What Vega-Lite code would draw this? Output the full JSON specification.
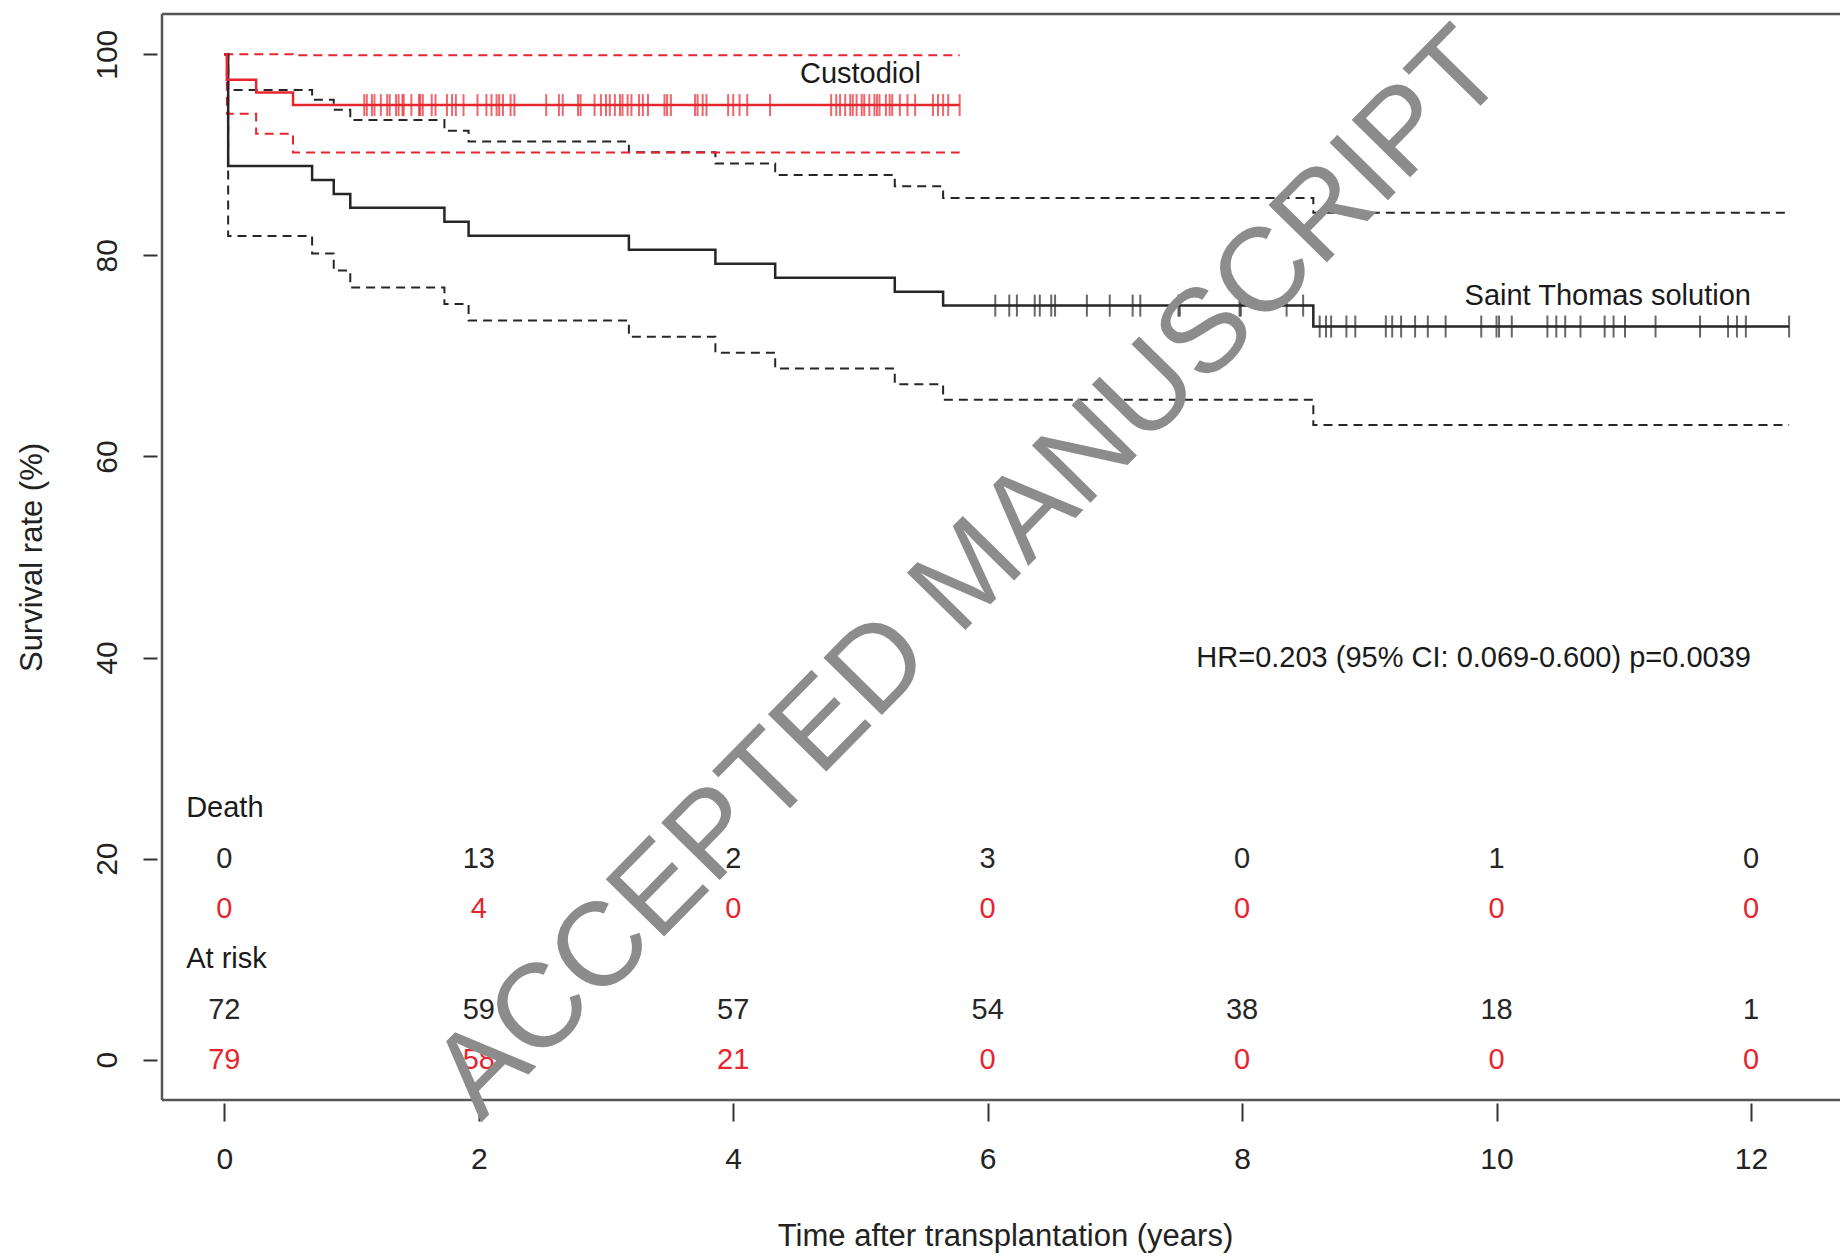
{
  "$schema": "https://vega.github.io/schema/vega-lite/v6.json",
  "width": 1678,
  "height": 1086,
  "autosize": {"type": "none"},
  "padding": {"left": 162, "top": 14, "right": 0, "bottom": 156},
  "background": "white",
  "config": {"view": {"stroke": null}, "font": "Liberation Sans"},
  "datasets": {
    "curves": [
      {"group": "Saint Thomas", "band": "est", "t": 0, "s": 100},
      {"group": "Saint Thomas", "band": "est", "t": 0.03, "s": 88.89},
      {"group": "Saint Thomas", "band": "est", "t": 0.69, "s": 87.5},
      {"group": "Saint Thomas", "band": "est", "t": 0.86, "s": 86.11},
      {"group": "Saint Thomas", "band": "est", "t": 0.99, "s": 84.72},
      {"group": "Saint Thomas", "band": "est", "t": 1.73, "s": 83.33},
      {"group": "Saint Thomas", "band": "est", "t": 1.92, "s": 81.94},
      {"group": "Saint Thomas", "band": "est", "t": 3.18, "s": 80.56},
      {"group": "Saint Thomas", "band": "est", "t": 3.86, "s": 79.17},
      {"group": "Saint Thomas", "band": "est", "t": 4.33, "s": 77.78},
      {"group": "Saint Thomas", "band": "est", "t": 5.27, "s": 76.39},
      {"group": "Saint Thomas", "band": "est", "t": 5.65, "s": 75.0},
      {"group": "Saint Thomas", "band": "est", "t": 8.56, "s": 72.92},
      {"group": "Saint Thomas", "band": "est", "t": 12.3, "s": 72.92},
      {"group": "Saint Thomas", "band": "hi", "t": 0, "s": 100},
      {"group": "Saint Thomas", "band": "hi", "t": 0.03, "s": 96.45},
      {"group": "Saint Thomas", "band": "hi", "t": 0.69, "s": 95.48},
      {"group": "Saint Thomas", "band": "hi", "t": 0.86, "s": 94.48},
      {"group": "Saint Thomas", "band": "hi", "t": 0.99, "s": 93.45},
      {"group": "Saint Thomas", "band": "hi", "t": 1.73, "s": 92.4},
      {"group": "Saint Thomas", "band": "hi", "t": 1.92, "s": 91.33},
      {"group": "Saint Thomas", "band": "hi", "t": 3.18, "s": 90.24},
      {"group": "Saint Thomas", "band": "hi", "t": 3.86, "s": 89.13},
      {"group": "Saint Thomas", "band": "hi", "t": 4.33, "s": 88.0},
      {"group": "Saint Thomas", "band": "hi", "t": 5.27, "s": 86.86},
      {"group": "Saint Thomas", "band": "hi", "t": 5.65, "s": 85.7},
      {"group": "Saint Thomas", "band": "hi", "t": 8.56, "s": 84.24},
      {"group": "Saint Thomas", "band": "hi", "t": 12.3, "s": 84.24},
      {"group": "Saint Thomas", "band": "lo", "t": 0, "s": 100},
      {"group": "Saint Thomas", "band": "lo", "t": 0.03, "s": 81.92},
      {"group": "Saint Thomas", "band": "lo", "t": 0.69, "s": 80.19},
      {"group": "Saint Thomas", "band": "lo", "t": 0.86, "s": 78.48},
      {"group": "Saint Thomas", "band": "lo", "t": 0.99, "s": 76.81},
      {"group": "Saint Thomas", "band": "lo", "t": 1.73, "s": 75.16},
      {"group": "Saint Thomas", "band": "lo", "t": 1.92, "s": 73.52},
      {"group": "Saint Thomas", "band": "lo", "t": 3.18, "s": 71.91},
      {"group": "Saint Thomas", "band": "lo", "t": 3.86, "s": 70.32},
      {"group": "Saint Thomas", "band": "lo", "t": 4.33, "s": 68.74},
      {"group": "Saint Thomas", "band": "lo", "t": 5.27, "s": 67.18},
      {"group": "Saint Thomas", "band": "lo", "t": 5.65, "s": 65.64},
      {"group": "Saint Thomas", "band": "lo", "t": 8.56, "s": 63.12},
      {"group": "Saint Thomas", "band": "lo", "t": 12.3, "s": 63.12},
      {"group": "Custodiol", "band": "est", "t": 0, "s": 100},
      {"group": "Custodiol", "band": "est", "t": 0.02, "s": 97.47},
      {"group": "Custodiol", "band": "est", "t": 0.25, "s": 96.2},
      {"group": "Custodiol", "band": "est", "t": 0.54, "s": 94.94},
      {"group": "Custodiol", "band": "est", "t": 5.78, "s": 94.94},
      {"group": "Custodiol", "band": "hi", "t": 0, "s": 100},
      {"group": "Custodiol", "band": "hi", "t": 0.54, "s": 99.9},
      {"group": "Custodiol", "band": "hi", "t": 5.78, "s": 99.9},
      {"group": "Custodiol", "band": "lo", "t": 0, "s": 100},
      {"group": "Custodiol", "band": "lo", "t": 0.02, "s": 94.07},
      {"group": "Custodiol", "band": "lo", "t": 0.25, "s": 92.08},
      {"group": "Custodiol", "band": "lo", "t": 0.54, "s": 90.22},
      {"group": "Custodiol", "band": "lo", "t": 5.78, "s": 90.22}
    ],
    "censored": [
      {"group": "Custodiol", "t": 1.10, "s": 94.94}, {"group": "Custodiol", "t": 1.12, "s": 94.94},
      {"group": "Custodiol", "t": 1.16, "s": 94.94}, {"group": "Custodiol", "t": 1.18, "s": 94.94},
      {"group": "Custodiol", "t": 1.23, "s": 94.94}, {"group": "Custodiol", "t": 1.28, "s": 94.94},
      {"group": "Custodiol", "t": 1.30, "s": 94.94}, {"group": "Custodiol", "t": 1.35, "s": 94.94},
      {"group": "Custodiol", "t": 1.37, "s": 94.94}, {"group": "Custodiol", "t": 1.40, "s": 94.94},
      {"group": "Custodiol", "t": 1.41, "s": 94.94}, {"group": "Custodiol", "t": 1.47, "s": 94.94},
      {"group": "Custodiol", "t": 1.53, "s": 94.94}, {"group": "Custodiol", "t": 1.54, "s": 94.94},
      {"group": "Custodiol", "t": 1.56, "s": 94.94}, {"group": "Custodiol", "t": 1.63, "s": 94.94},
      {"group": "Custodiol", "t": 1.66, "s": 94.94}, {"group": "Custodiol", "t": 1.75, "s": 94.94},
      {"group": "Custodiol", "t": 1.79, "s": 94.94}, {"group": "Custodiol", "t": 1.82, "s": 94.94},
      {"group": "Custodiol", "t": 1.88, "s": 94.94}, {"group": "Custodiol", "t": 1.99, "s": 94.94},
      {"group": "Custodiol", "t": 2.06, "s": 94.94}, {"group": "Custodiol", "t": 2.10, "s": 94.94},
      {"group": "Custodiol", "t": 2.14, "s": 94.94}, {"group": "Custodiol", "t": 2.16, "s": 94.94},
      {"group": "Custodiol", "t": 2.19, "s": 94.94}, {"group": "Custodiol", "t": 2.25, "s": 94.94},
      {"group": "Custodiol", "t": 2.28, "s": 94.94}, {"group": "Custodiol", "t": 2.53, "s": 94.94},
      {"group": "Custodiol", "t": 2.63, "s": 94.94}, {"group": "Custodiol", "t": 2.66, "s": 94.94},
      {"group": "Custodiol", "t": 2.78, "s": 94.94}, {"group": "Custodiol", "t": 2.80, "s": 94.94},
      {"group": "Custodiol", "t": 2.91, "s": 94.94}, {"group": "Custodiol", "t": 2.96, "s": 94.94},
      {"group": "Custodiol", "t": 3.00, "s": 94.94}, {"group": "Custodiol", "t": 3.03, "s": 94.94},
      {"group": "Custodiol", "t": 3.07, "s": 94.94}, {"group": "Custodiol", "t": 3.11, "s": 94.94},
      {"group": "Custodiol", "t": 3.13, "s": 94.94}, {"group": "Custodiol", "t": 3.17, "s": 94.94},
      {"group": "Custodiol", "t": 3.20, "s": 94.94}, {"group": "Custodiol", "t": 3.26, "s": 94.94},
      {"group": "Custodiol", "t": 3.29, "s": 94.94}, {"group": "Custodiol", "t": 3.33, "s": 94.94},
      {"group": "Custodiol", "t": 3.46, "s": 94.94}, {"group": "Custodiol", "t": 3.48, "s": 94.94},
      {"group": "Custodiol", "t": 3.51, "s": 94.94}, {"group": "Custodiol", "t": 3.70, "s": 94.94},
      {"group": "Custodiol", "t": 3.72, "s": 94.94}, {"group": "Custodiol", "t": 3.76, "s": 94.94},
      {"group": "Custodiol", "t": 3.79, "s": 94.94}, {"group": "Custodiol", "t": 3.96, "s": 94.94},
      {"group": "Custodiol", "t": 4.00, "s": 94.94}, {"group": "Custodiol", "t": 4.05, "s": 94.94},
      {"group": "Custodiol", "t": 4.11, "s": 94.94}, {"group": "Custodiol", "t": 4.29, "s": 94.94},
      {"group": "Custodiol", "t": 4.77, "s": 94.94}, {"group": "Custodiol", "t": 4.81, "s": 94.94},
      {"group": "Custodiol", "t": 4.84, "s": 94.94}, {"group": "Custodiol", "t": 4.88, "s": 94.94},
      {"group": "Custodiol", "t": 4.92, "s": 94.94}, {"group": "Custodiol", "t": 4.94, "s": 94.94},
      {"group": "Custodiol", "t": 4.97, "s": 94.94}, {"group": "Custodiol", "t": 5.01, "s": 94.94},
      {"group": "Custodiol", "t": 5.03, "s": 94.94}, {"group": "Custodiol", "t": 5.07, "s": 94.94},
      {"group": "Custodiol", "t": 5.11, "s": 94.94}, {"group": "Custodiol", "t": 5.13, "s": 94.94},
      {"group": "Custodiol", "t": 5.15, "s": 94.94}, {"group": "Custodiol", "t": 5.20, "s": 94.94},
      {"group": "Custodiol", "t": 5.23, "s": 94.94}, {"group": "Custodiol", "t": 5.25, "s": 94.94},
      {"group": "Custodiol", "t": 5.31, "s": 94.94}, {"group": "Custodiol", "t": 5.37, "s": 94.94},
      {"group": "Custodiol", "t": 5.43, "s": 94.94}, {"group": "Custodiol", "t": 5.57, "s": 94.94},
      {"group": "Custodiol", "t": 5.61, "s": 94.94}, {"group": "Custodiol", "t": 5.65, "s": 94.94},
      {"group": "Custodiol", "t": 5.69, "s": 94.94}, {"group": "Custodiol", "t": 5.78, "s": 94.94},
      {"group": "Saint Thomas", "t": 6.06, "s": 75.0}, {"group": "Saint Thomas", "t": 6.17, "s": 75.0},
      {"group": "Saint Thomas", "t": 6.23, "s": 75.0}, {"group": "Saint Thomas", "t": 6.37, "s": 75.0},
      {"group": "Saint Thomas", "t": 6.41, "s": 75.0}, {"group": "Saint Thomas", "t": 6.50, "s": 75.0},
      {"group": "Saint Thomas", "t": 6.53, "s": 75.0}, {"group": "Saint Thomas", "t": 6.78, "s": 75.0},
      {"group": "Saint Thomas", "t": 6.96, "s": 75.0}, {"group": "Saint Thomas", "t": 7.14, "s": 75.0},
      {"group": "Saint Thomas", "t": 7.20, "s": 75.0}, {"group": "Saint Thomas", "t": 7.50, "s": 75.0},
      {"group": "Saint Thomas", "t": 7.51, "s": 75.0}, {"group": "Saint Thomas", "t": 7.98, "s": 75.0},
      {"group": "Saint Thomas", "t": 7.99, "s": 75.0}, {"group": "Saint Thomas", "t": 8.35, "s": 75.0},
      {"group": "Saint Thomas", "t": 8.48, "s": 75.0},
      {"group": "Saint Thomas", "t": 8.61, "s": 72.92}, {"group": "Saint Thomas", "t": 8.66, "s": 72.92},
      {"group": "Saint Thomas", "t": 8.70, "s": 72.92}, {"group": "Saint Thomas", "t": 8.82, "s": 72.92},
      {"group": "Saint Thomas", "t": 8.89, "s": 72.92}, {"group": "Saint Thomas", "t": 9.13, "s": 72.92},
      {"group": "Saint Thomas", "t": 9.18, "s": 72.92}, {"group": "Saint Thomas", "t": 9.25, "s": 72.92},
      {"group": "Saint Thomas", "t": 9.36, "s": 72.92}, {"group": "Saint Thomas", "t": 9.46, "s": 72.92},
      {"group": "Saint Thomas", "t": 9.60, "s": 72.92}, {"group": "Saint Thomas", "t": 9.88, "s": 72.92},
      {"group": "Saint Thomas", "t": 10.00, "s": 72.92}, {"group": "Saint Thomas", "t": 10.02, "s": 72.92},
      {"group": "Saint Thomas", "t": 10.12, "s": 72.92}, {"group": "Saint Thomas", "t": 10.40, "s": 72.92},
      {"group": "Saint Thomas", "t": 10.47, "s": 72.92}, {"group": "Saint Thomas", "t": 10.54, "s": 72.92},
      {"group": "Saint Thomas", "t": 10.66, "s": 72.92}, {"group": "Saint Thomas", "t": 10.85, "s": 72.92},
      {"group": "Saint Thomas", "t": 10.92, "s": 72.92}, {"group": "Saint Thomas", "t": 11.01, "s": 72.92},
      {"group": "Saint Thomas", "t": 11.25, "s": 72.92}, {"group": "Saint Thomas", "t": 11.60, "s": 72.92},
      {"group": "Saint Thomas", "t": 11.82, "s": 72.92}, {"group": "Saint Thomas", "t": 11.89, "s": 72.92},
      {"group": "Saint Thomas", "t": 11.96, "s": 72.92}, {"group": "Saint Thomas", "t": 12.30, "s": 72.92}
    ],
    "table": [
      {"group": "Saint Thomas", "t": 0, "s": 20, "n": "0"},
      {"group": "Saint Thomas", "t": 2, "s": 20, "n": "13"},
      {"group": "Saint Thomas", "t": 4, "s": 20, "n": "2"},
      {"group": "Saint Thomas", "t": 6, "s": 20, "n": "3"},
      {"group": "Saint Thomas", "t": 8, "s": 20, "n": "0"},
      {"group": "Saint Thomas", "t": 10, "s": 20, "n": "1"},
      {"group": "Saint Thomas", "t": 12, "s": 20, "n": "0"},
      {"group": "Custodiol", "t": 0, "s": 15, "n": "0"},
      {"group": "Custodiol", "t": 2, "s": 15, "n": "4"},
      {"group": "Custodiol", "t": 4, "s": 15, "n": "0"},
      {"group": "Custodiol", "t": 6, "s": 15, "n": "0"},
      {"group": "Custodiol", "t": 8, "s": 15, "n": "0"},
      {"group": "Custodiol", "t": 10, "s": 15, "n": "0"},
      {"group": "Custodiol", "t": 12, "s": 15, "n": "0"},
      {"group": "Saint Thomas", "t": 0, "s": 5, "n": "72"},
      {"group": "Saint Thomas", "t": 2, "s": 5, "n": "59"},
      {"group": "Saint Thomas", "t": 4, "s": 5, "n": "57"},
      {"group": "Saint Thomas", "t": 6, "s": 5, "n": "54"},
      {"group": "Saint Thomas", "t": 8, "s": 5, "n": "38"},
      {"group": "Saint Thomas", "t": 10, "s": 5, "n": "18"},
      {"group": "Saint Thomas", "t": 12, "s": 5, "n": "1"},
      {"group": "Custodiol", "t": 0, "s": 0, "n": "79"},
      {"group": "Custodiol", "t": 2, "s": 0, "n": "58"},
      {"group": "Custodiol", "t": 4, "s": 0, "n": "21"},
      {"group": "Custodiol", "t": 6, "s": 0, "n": "0"},
      {"group": "Custodiol", "t": 8, "s": 0, "n": "0"},
      {"group": "Custodiol", "t": 10, "s": 0, "n": "0"},
      {"group": "Custodiol", "t": 12, "s": 0, "n": "0"}
    ],
    "headers": [
      {"label": "Death", "t": -0.3, "s": 25},
      {"label": "At risk", "t": -0.3, "s": 10}
    ],
    "notesRight": [
      {"label": "Saint Thomas solution", "t": 12, "s": 76},
      {"label": "HR=0.203 (95% CI: 0.069-0.600) p=0.0039", "t": 12, "s": 40}
    ],
    "notesCenter": [
      {"label": "Custodiol", "t": 5, "s": 98}
    ]
  },
  "layer": [
    {
      "data": {"name": "curves"},
      "transform": [{"filter": "datum.band != 'est'"}],
      "mark": {"type": "line", "interpolate": "step-after", "strokeDash": [9, 6], "strokeWidth": 2},
      "encoding": {
        "x": {
          "field": "t", "type": "quantitative",
          "scale": {"domain": [-0.49, 12.7], "nice": false, "zero": false},
          "axis": {
            "values": [0, 2, 4, 6, 8, 10, 12], "format": "d", "offset": 3, "tickSize": 18, "tickWidth": 2, "tickColor": "#333333",
            "domain": false, "grid": false, "labelPadding": 23, "labelFontSize": 30, "labelBaseline": "top",
            "labelColor": "#222222", "labelFlush": false, "labelOverlap": false,
            "title": "Time after transplantation (years)", "titleFontSize": 31, "titleFontWeight": "normal",
            "titleColor": "#222222", "titleBaseline": "alphabetic", "titleY": 142, "titleX": 843, "titleAlign": "center"
          }
        },
        "y": {
          "field": "s", "type": "quantitative",
          "scale": {"domain": [-4, 104], "nice": false, "zero": false},
          "axis": {
            "values": [0, 20, 40, 60, 80, 100], "format": "d", "offset": 5, "tickSize": 14, "tickWidth": 2, "tickColor": "#333333",
            "domain": false, "grid": false, "labelAngle": -90, "labelAlign": "center", "labelBaseline": "alphabetic",
            "labelPadding": 27, "labelFontSize": 30, "labelColor": "#222222", "labelFlush": false, "labelOverlap": false,
            "title": "Survival rate (%)", "titleFontSize": 31, "titleFontWeight": "normal", "titleColor": "#222222",
            "titleAngle": -90, "titleBaseline": "alphabetic", "titleX": -116
          }
        },
        "color": {
          "field": "group", "type": "nominal",
          "scale": {"domain": ["Saint Thomas", "Custodiol"], "range": ["#262626", "#e5262e"]},
          "legend": null
        },
        "detail": {"field": "band", "type": "nominal"}
      }
    },
    {
      "data": {"name": "curves"},
      "transform": [{"filter": "datum.band == 'est'"}],
      "mark": {"type": "line", "interpolate": "step-after", "strokeWidth": 2.5},
      "encoding": {
        "x": {"field": "t", "type": "quantitative"},
        "y": {"field": "s", "type": "quantitative"},
        "color": {"field": "group", "type": "nominal", "legend": null}
      }
    },
    {
      "data": {"name": "censored"},
      "mark": {"type": "tick", "orient": "vertical", "size": 22, "thickness": 2},
      "encoding": {
        "x": {"field": "t", "type": "quantitative"},
        "y": {"field": "s", "type": "quantitative"},
        "color": {"field": "group", "type": "nominal", "legend": null}
      }
    },
    {
      "data": {"name": "table"},
      "mark": {"type": "text", "fontSize": 29, "align": "center", "baseline": "middle"},
      "encoding": {
        "x": {"field": "t", "type": "quantitative"},
        "y": {"field": "s", "type": "quantitative"},
        "text": {"field": "n", "type": "nominal"},
        "color": {"field": "group", "type": "nominal", "legend": null}
      }
    },
    {
      "data": {"name": "headers"},
      "mark": {"type": "text", "fontSize": 29, "align": "left", "baseline": "middle", "color": "#1a1a1a"},
      "encoding": {
        "x": {"field": "t", "type": "quantitative"},
        "y": {"field": "s", "type": "quantitative"},
        "text": {"field": "label", "type": "nominal"}
      }
    },
    {
      "data": {"name": "notesRight"},
      "mark": {"type": "text", "fontSize": 29, "align": "right", "baseline": "middle", "color": "#1a1a1a"},
      "encoding": {
        "x": {"field": "t", "type": "quantitative"},
        "y": {"field": "s", "type": "quantitative"},
        "text": {"field": "label", "type": "nominal"}
      }
    },
    {
      "data": {"name": "notesCenter"},
      "mark": {"type": "text", "fontSize": 29, "align": "center", "baseline": "middle", "color": "#1a1a1a"},
      "encoding": {
        "x": {"field": "t", "type": "quantitative"},
        "y": {"field": "s", "type": "quantitative"},
        "text": {"field": "label", "type": "nominal"}
      }
    },
    {
      "data": {"values": [{"edge": "left"}]},
      "mark": {"type": "rule", "stroke": "#555555", "strokeWidth": 2.5},
      "encoding": {"x": {"datum": -0.49}}
    },
    {
      "data": {"values": [{"edge": "top"}]},
      "mark": {"type": "rule", "stroke": "#555555", "strokeWidth": 2.5},
      "encoding": {"y": {"datum": 104}}
    },
    {
      "data": {"values": [{"edge": "bottom"}]},
      "mark": {"type": "rule", "stroke": "#555555", "strokeWidth": 2.5},
      "encoding": {"y": {"datum": -4}}
    },
    {
      "data": {"values": [{"mark": "ACCEPTED MANUSCRIPT"}]},
      "mark": {"type": "text", "fontSize": 119, "align": "center", "baseline": "middle", "angle": -45.5, "color": "#8c8c8c"},
      "encoding": {
        "x": {"datum": 5.86},
        "y": {"datum": 48.3},
        "text": {"field": "mark", "type": "nominal"}
      }
    }
  ]
}
